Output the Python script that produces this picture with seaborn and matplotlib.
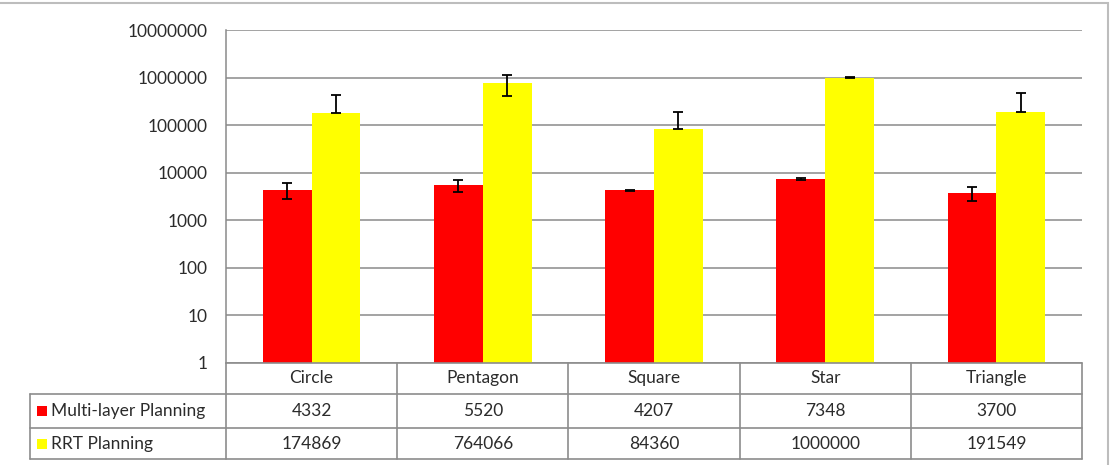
import numpy as np
import pandas as pd
import matplotlib
matplotlib.use("Agg")
import matplotlib.pyplot as plt
from matplotlib.patches import Rectangle
from matplotlib.lines import Line2D
import seaborn as sns

# chart data
shapes = ["Circle", "Pentagon", "Square", "Star", "Triangle"]
methods = ["Multi-layer Planning", "RRT Planning"]
multi_layer = [4332, 5520, 4207, 7348, 3700]
rrt = [174869, 764066, 84360, 1000000, 191549]
multi_layer_err = [1600, 1550, 100, 300, 1200]
rrt_err = [250000, 350000, 105000, 8000, 270000]
y_ticks = [1, 10, 100, 1000, 10000, 100000, 1000000, 10000000]
colors = ["#ff0000", "#ffff00"]

df = pd.DataFrame({
    "shape": shapes * 2,
    "method": [methods[0]] * len(shapes) + [methods[1]] * len(shapes),
    "value": multi_layer + rrt,
    "err": multi_layer_err + rrt_err,
})

sns.set_theme(style="white")
plt.rcParams["font.family"] = ["Lato", "DejaVu Sans"]
text_color = "#2b2b2b"
grid_color = "#8a8a8a"

W, H = 1114, 465
fig = plt.figure(figsize=(W / 100, H / 100), dpi=100)

# plot area in pixels
px_left, px_right, px_top, px_bottom = 226, 1082, 30, 362.5
ax = fig.add_axes([px_left / W, 1 - px_bottom / H,
                   (px_right - px_left) / W, (px_bottom - px_top) / H])
ax.set_yscale("log")
sns.barplot(data=df, x="shape", y="value", hue="method", hue_order=methods,
            order=shapes, palette=colors, width=0.57, gap=0, errorbar=None,
            legend=False, saturation=1, linewidth=0, ax=ax, zorder=3)
ax.set_ylim(1, 1e7)
ax.set_xlim(-0.5, len(shapes) - 0.5)

# error bars on bar centres (clip lower part where it would go below zero)
bars = sorted(ax.patches, key=lambda p: p.get_x())
vals, errs = [], []
for i in range(len(shapes)):
    vals += [multi_layer[i], rrt[i]]
    errs += [multi_layer_err[i], rrt_err[i]]
xs = [p.get_x() + p.get_width() / 2 for p in bars]
lower = [e if v - e > 0 else 0 for v, e in zip(vals, errs)]
ax.errorbar(xs, vals, yerr=[lower, errs], fmt="none", ecolor="black",
            elinewidth=1.3, capsize=3.8, capthick=1.3, zorder=4)

fs = 12.5
ax.set_yticks(y_ticks)
ax.set_yticklabels([str(t) for t in y_ticks])
ax.minorticks_off()
ax.tick_params(axis="y", length=0, pad=13, labelsize=fs, labelcolor=text_color)
ax.tick_params(axis="x", length=0, labelbottom=False)
ax.set_xlabel("")
ax.set_ylabel("")
ax.yaxis.grid(True, color=grid_color, linewidth=1.1)
ax.set_axisbelow(True)
for s in ["top", "right", "bottom"]:
    ax.spines[s].set_visible(False)
ax.spines["left"].set_color(grid_color)
ax.spines["left"].set_linewidth(1.1)

# data table below the plot, drawn in pixel coordinates
ov = fig.add_axes([0, 0, 1, 1], zorder=5)
ov.set_xlim(0, W)
ov.set_ylim(H, 0)
ov.axis("off")
ov.patch.set_alpha(0)

line_kw = dict(color="#8c8c8c", linewidth=1.2)
rows = [px_bottom, 394, 428, 459]
tab_left = 30
ncol = len(shapes)
colw = (px_right - px_left) / ncol
col_x = [px_left + i * colw for i in range(ncol + 1)]

# horizontal lines
ov.add_line(Line2D([px_left, px_right], [rows[0], rows[0]], **line_kw))
for y in rows[1:]:
    ov.add_line(Line2D([tab_left, px_right], [y, y], **line_kw))
# vertical lines
ov.add_line(Line2D([tab_left, tab_left], [rows[1], rows[3]], **line_kw))
for x in col_x:
    ov.add_line(Line2D([x, x], [rows[0], rows[3]], **line_kw))

for i, name in enumerate(shapes):
    cx = col_x[i] + colw / 2
    ov.text(cx, (rows[0] + rows[1]) / 2, name, ha="center", va="center",
            fontsize=fs, color=text_color)
    ov.text(cx, (rows[1] + rows[2]) / 2, str(multi_layer[i]), ha="center",
            va="center", fontsize=fs, color=text_color)
    ov.text(cx, (rows[2] + rows[3]) / 2, str(rrt[i]), ha="center",
            va="center", fontsize=fs, color=text_color)

for j, (m, c) in enumerate(zip(methods, colors)):
    yc = (rows[j + 1] + rows[j + 2]) / 2
    ov.add_patch(Rectangle((37, yc - 5), 10, 10, facecolor=c, edgecolor="none"))
    ov.text(51, yc, m, ha="left", va="center", fontsize=fs, color=text_color)

# outer chart border
ov.add_patch(Rectangle((-5, 3), 1113, 470, facecolor="none",
                       edgecolor="#bdbdbd", linewidth=1.5))

fig.savefig("out.png", dpi=100)
